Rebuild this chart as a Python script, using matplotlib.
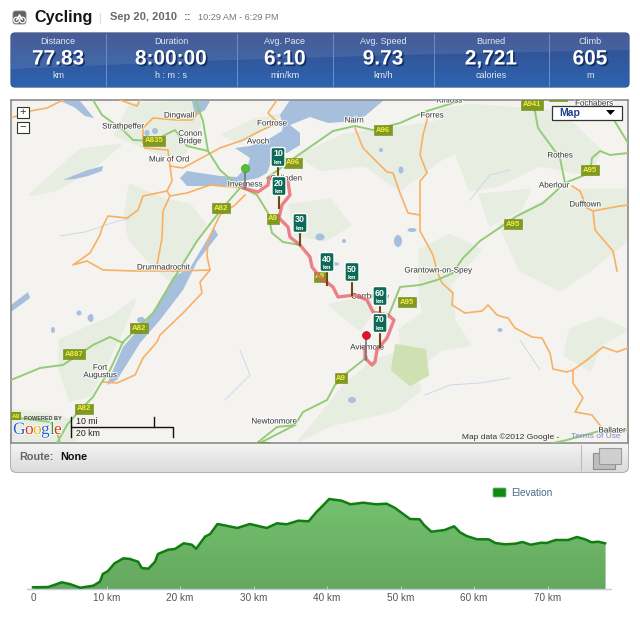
import numpy as np
import matplotlib
matplotlib.use('Agg')
import matplotlib.pyplot as plt
import matplotlib.patheffects as pe
from matplotlib.patches import FancyBboxPatch, Rectangle, Polygon, Ellipse

plt.rcParams['font.family'] = ['Liberation Sans', 'DejaVu Sans']

W, H = 640, 625

# summary band
stat_names = ['Distance', 'Duration', 'Avg. Pace', 'Avg. Speed', 'Burned', 'Climb']
stat_values = ['77.83', '8:00:00', '6:10', '9.73', '2,721', '605']
stat_units = ['km', 'h : m : s', 'min/km', 'km/h', 'calories', 'm']
stat_centers = [58, 171, 285, 383, 491, 590]
stat_dividers = [106, 237, 333, 434, 549]

# elevation profile, km along the ride and height
elev_km = [0, 2.1, 3.9, 5.0, 6.4, 8.2, 9.1, 9.5, 10.2, 11.1, 12.3, 13.2, 14.3, 14.8, 15.7, 16.6, 17,
           18.4, 19.3, 20.5, 21.6, 22.2, 23.4, 24.1, 25.1, 26.3, 27.8, 29.5, 31.8, 33.2, 34.5, 36.1,
           37.5, 38.6, 39.05, 40.3, 42, 43.2, 44.9, 46.7, 48.1, 49.2, 51.3, 52.6, 53.2, 54.2, 56,
           57.3, 58.1, 59, 60.4, 62, 62.9, 64.2, 65.6, 66.6, 67.7, 69.2, 69.9, 71.1, 72.8, 74, 75.1,
           76, 76.9, 77.83]
elev_h = [1.7, 2, 6.7, 5, 1.3, 3.3, 7.3, 15, 18, 25.7, 30.7, 30, 27.3, 21, 20.3, 27.3, 35,
          39.3, 40, 45.7, 44.3, 40.3, 52.3, 55, 65, 63.3, 61, 65, 61, 65.7, 64.7, 68.3,
          67.7, 77.3, 80.5, 90, 88.3, 84.7, 86.3, 84.7, 85.3, 81.3, 70, 69.7, 64, 57.3, 59,
          62.7, 56.7, 53, 49.7, 49.7, 46, 44.7, 45.3, 47, 44.3, 46.3, 46, 49, 49, 52, 49.7,
          46.7, 47.3, 45.7]
km_ticks = [0, 10, 20, 30, 40, 50, 60, 70]
km_labels = ['0', '10 km', '20 km', '30 km', '40 km', '50 km', '60 km', '70 km']

# map: route and markers
route = [(243, 188), (258, 192), (268, 185), (269, 178), (288, 182), (290, 195), (282, 205), (279, 218),
         (288, 227), (290, 237), (300, 245), (310, 257), (312, 267), (320, 277), (333, 287), (338, 297),
         (355, 295), (367, 300), (373, 312), (388, 315), (394, 320), (387, 338), (377, 350), (375, 362),
         (372, 365), (365, 358), (365, 347)]
sign_text = ['10', '20', '30', '40', '50', '60', '70']
sign_x = [278, 279, 300, 327, 352, 380, 380]
sign_y = [157, 186, 223, 262, 272, 296, 323]
sign_foot = [175, 208, 245, 285, 295, 313, 347]

# map: water
firth = [(290, 100), (384, 100), (365, 116), (343, 122), (328, 123), (310, 117), (290, 125), (300, 133),
         (300, 145), (287, 153), (272, 150), (270, 165), (267, 173), (258, 178), (243, 181), (225, 186),
         (197, 186), (187, 186), (180, 178), (187, 171), (220, 176), (237, 177), (248, 165), (250, 158),
         (235, 148), (250, 146), (267, 140), (282, 131), (283, 126), (280, 115)]
loch_ness = [(214, 228), (190, 268), (173, 277), (153, 313), (123, 347), (110, 377), (107, 385), (117, 380),
             (140, 343), (160, 320), (183, 290), (197, 262), (218, 235)]
loch_top = [(60, 101), (80, 101), (94, 118), (85, 116), (74, 107)]
loch_thin = [(63, 180), (75, 175), (88, 170), (103, 166), (102, 171), (88, 176), (75, 179)]
loch_dingwall = [(192, 101), (210, 101), (205, 110), (195, 116)]
loch_left = [(11, 305), (28, 292), (30, 298), (11, 312)]
lake_x = [155, 147, 153, 91, 53, 90, 141, 79, 320, 333, 352, 398, 412, 401, 344, 381, 500]
lake_y = [131, 133, 318, 318, 330, 318, 320, 313, 237, 264, 400, 241, 230, 170, 241, 150, 330]
lake_w = [6, 5, 5, 5, 4, 5, 8, 5, 9, 12, 8, 8, 9, 5, 4, 4, 5]
lake_h = [6, 6, 8, 8, 6, 6, 6, 5, 7, 4, 6, 12, 4, 7, 4, 4, 4]
stream_a = [(60, 236), (85, 232), (115, 222), (130, 218)]
stream_b = [(425, 395), (450, 385), (480, 383), (510, 378)]
stream_c = [(520, 340), (530, 355), (540, 370)]
stream_d = [(240, 350), (250, 375), (225, 400)]
stream_e = [(470, 200), (490, 175), (510, 170)]

# map: pale woodland
wood_a = [(130, 105), (195, 101), (200, 125), (180, 160), (150, 150), (115, 135)]
wood_b = [(130, 185), (165, 200), (190, 205), (205, 225), (170, 280), (150, 262), (130, 240), (125, 215)]
wood_c = [(60, 340), (110, 318), (135, 300), (120, 335), (90, 395), (70, 400), (60, 370)]
wood_d = [(222, 135), (255, 120), (280, 115), (262, 130), (240, 142)]
wood_e = [(300, 155), (345, 135), (420, 125), (445, 120), (470, 145), (440, 160), (400, 190), (365, 165), (320, 170)]
wood_f = [(440, 110), (470, 105), (560, 112), (600, 150), (590, 175), (540, 165), (500, 185), (470, 190)]
wood_g = [(480, 195), (530, 190), (520, 210), (490, 225)]
wood_h = [(500, 225), (565, 190), (627, 190), (627, 240), (590, 270), (560, 290), (520, 270)]
wood_i = [(420, 250), (450, 235), (480, 250), (450, 285), (455, 325), (430, 330), (420, 300)]
wood_j = [(290, 205), (330, 200), (350, 225), (325, 240), (295, 235)]
wood_k = [(330, 305), (352, 300), (380, 300), (360, 330)]
wood_l = [(400, 330), (440, 300), (470, 345), (440, 350), (405, 380)]
wood_m = [(300, 440), (345, 385), (375, 360), (410, 350), (420, 390), (395, 410), (330, 425)]
wood_n = [(570, 330), (600, 318), (627, 330), (600, 345), (590, 370), (565, 355)]
wood_o = [(11, 410), (50, 415), (70, 420), (75, 443), (11, 443)]
wood_p = [(30, 195), (80, 150), (120, 145), (90, 170), (55, 190)]
park = [(396, 345), (425, 350), (428, 375), (410, 385), (392, 370)]

# map: A roads
green_a = [(93, 100), (102, 115), (123, 130), (133, 140), (153, 141), (175, 130), (187, 146), (208, 151)]
green_b = [(195, 100), (203, 121), (208, 151), (220, 170), (237, 185), (243, 188), (257, 195), (268, 213),
           (272, 233), (283, 242), (300, 245)]
green_c = [(267, 178), (297, 156), (333, 131), (355, 126), (373, 130), (400, 123), (427, 111), (463, 100)]
green_d = [(533, 100), (538, 128), (560, 158), (565, 183)]
green_e = [(607, 100), (608, 110), (628, 143)]
green_f = [(628, 153), (610, 155), (600, 151), (592, 158), (590, 173), (565, 183), (543, 203), (517, 216),
           (480, 241), (463, 258), (453, 273), (437, 280), (420, 285), (400, 287), (388, 317)]
green_g = [(367, 357), (347, 373), (335, 385), (327, 400), (303, 412), (295, 425), (260, 443)]
green_h = [(295, 425), (277, 427), (257, 443)]
green_i = [(240, 188), (220, 211), (197, 241), (173, 280), (153, 313), (123, 342), (110, 370), (100, 385),
           (93, 397), (80, 410), (67, 425), (57, 443)]
green_j = [(123, 343), (110, 337), (93, 345), (63, 365), (40, 368), (11, 380)]
green_k = [(553, 443), (567, 440), (603, 430), (628, 430)]
green_l = [(11, 417), (50, 422), (57, 432), (60, 443)]

# map: B roads
orange_a = [(11, 118), (30, 111), (47, 108), (63, 100)]
orange_b = [(143, 143), (143, 128), (153, 118), (177, 120), (192, 120), (200, 111)]
orange_c = [(145, 148), (168, 150), (170, 166), (172, 181), (167, 191), (170, 196), (187, 193), (210, 185),
            (220, 186), (243, 188)]
orange_d = [(170, 166), (183, 168), (220, 148), (243, 140), (260, 131), (278, 123), (268, 113), (277, 100)]
orange_e = [(167, 191), (143, 196), (138, 210), (127, 218), (108, 216), (102, 228), (100, 235), (90, 253),
            (73, 265), (87, 261), (103, 270), (137, 271), (175, 271), (210, 270)]
orange_f = [(170, 196), (163, 211), (162, 238), (157, 265)]
orange_g = [(245, 195), (235, 205), (220, 215), (208, 240), (207, 256), (210, 270), (200, 282), (202, 293),
            (183, 313), (160, 335), (157, 342), (143, 358), (135, 375), (117, 383), (103, 382)]
orange_h = [(355, 128), (363, 148), (387, 172), (393, 173), (400, 193), (408, 213), (420, 215)]
orange_i = [(427, 111), (427, 120), (423, 135), (420, 155), (427, 173), (420, 181), (420, 211), (420, 231),
            (433, 255), (437, 271), (442, 283), (453, 293), (452, 305), (465, 313), (482, 311), (488, 305),
            (497, 315), (503, 317), (508, 318), (515, 328), (532, 337), (542, 338), (550, 353), (553, 369),
            (567, 372), (573, 370), (587, 360), (603, 347), (617, 352), (628, 348)]
orange_j = [(573, 370), (573, 383), (583, 398), (575, 412), (592, 415), (602, 428)]
orange_k = [(572, 186), (580, 191), (587, 208), (593, 211), (620, 206), (628, 205)]
orange_l = [(593, 211), (595, 230), (613, 251), (617, 271)]
orange_m = [(120, 100), (137, 106), (140, 100)]

# map: labels and road shields
town_names = ['Strathpeffer', 'Dingwall', 'Conon\nBridge', 'Muir of Ord', 'Drumnadrochit', 'Fort\nAugustus',
              'Fortrose', 'Avoch', 'Inverness', 'Nairn', 'Forres', 'Kinloss', 'Rothes', 'Aberlour', 'Dufftown',
              'Fochabers', 'Grantown-on-Spey', 'Newtonmore', 'Aviemore', 'Carrbridge', 'Culloden', 'Ballater']
town_x = [123, 179, 190, 169, 163, 100, 272, 258, 245, 354, 432, 449, 560, 554, 585, 594, 438, 274, 367, 370, 286, 612]
town_y = [127, 116, 138, 160, 268, 372, 124, 142, 185, 121, 116, 101, 156, 186, 205, 104, 271, 422, 348, 297, 179, 431]
shield_names = ['A96', 'A82', 'A9', 'A9', 'A95', 'A9', 'A96', 'A835', 'A82', 'A887', 'A82', 'A941', 'A95',
                'A95', 'A9', 'A98']
shield_x = [293, 221, 273, 320, 407, 341, 383, 154, 139, 74, 84, 532, 590, 513, 263, 558]
shield_y = [163, 208, 219, 277, 302, 378, 130, 141, 328, 354, 409, 105, 170, 224, 447, 96]

fig = plt.figure(figsize=(W / 100, H / 100), dpi=100, facecolor='white')


def px_axes(left, top, right, bottom, **kw):
    return fig.add_axes([left / W, 1 - bottom / H, (right - left) / W, (bottom - top) / H], **kw)


page = px_axes(0, 0, W, H)
page.set_xlim(0, W)
page.set_ylim(H, 0)
page.axis('off')

# --- header
page.add_patch(FancyBboxPatch((13, 11), 13, 13, boxstyle='round,pad=0,rounding_size=2.5', fc='#5f6264', ec='#8a8a8a', lw=0.6))
for cx in (16.5, 22.5):
    page.add_patch(Ellipse((cx, 20), 5.5, 5.5, fc='none', ec='white', lw=0.9))
page.plot([16.5, 19.5, 22.5, 20, 16.5], [20, 14.5, 20, 16, 20], color='white', lw=0.7)
page.text(34, 17.5, 'Cycling', fontsize=11.6, fontweight='bold', color='#151515', va='center')
page.plot([100, 100], [13, 23], color='#dddddd', lw=0.8)
page.text(110, 17.5, 'Sep 20, 2010', fontsize=8, fontweight='bold', color='#6a6a6a', va='center')
page.text(184, 17.5, '::', fontsize=8, fontweight='bold', color='#6a6a6a', va='center')
page.text(198, 18, '10:29 AM - 6:29 PM', fontsize=6.6, color='#777777', va='center')

# --- summary band
band = FancyBboxPatch((11, 33), 618, 54, boxstyle='round,pad=0,rounding_size=4', fc='#2c5ea9', ec='#23406f', lw=0.8)
page.add_patch(band)
shade = np.linspace(0, 1, 54)[:, None]
band_rgb = np.array([0x35, 0x4c, 0x8c]) * (1 - shade) + np.array([0x2d, 0x64, 0xb0]) * shade
im = page.imshow(band_rgb[:, None, :] / 255, extent=(11, 629, 87, 33), aspect='auto', zorder=2)
im.set_clip_path(band)
swoosh = Polygon([(11, 33), (629, 33), (629, 50), (400, 55), (200, 61), (11, 69)], closed=True, fc='white', alpha=0.09,
                 ec='none', zorder=2.5)
page.add_patch(swoosh)
swoosh.set_clip_path(band)
page.set_xlim(0, W)
page.set_ylim(H, 0)
for dx in stat_dividers:
    page.plot([dx, dx], [34, 86], color='#6e8fc6', lw=0.7, zorder=3)
value_fx = [pe.withSimplePatchShadow(offset=(1.2, -1.2), shadow_rgbFace='#0c2350', alpha=0.8)]
for name, value, unit, cx in zip(stat_names, stat_values, stat_units, stat_centers):
    page.text(cx, 41.5, name, fontsize=6.5, color='#e4e9f4', ha='center', va='center', zorder=4)
    page.text(cx, 59, value, fontsize=15, fontweight='bold', color='white', ha='center', va='center', zorder=4,
              path_effects=value_fx)
    page.text(cx, 75.5, unit, fontsize=6.5, color='#e4e9f4', ha='center', va='center', zorder=4)

# --- footer under the map
foot = FancyBboxPatch((11, 430), 617, 42, boxstyle='round,pad=0,rounding_size=5', fc='#eeeeee', ec='#8e8e8e', lw=1.0)
page.add_patch(foot)
foot_shade = np.linspace(1, 0.86, 42)[:, None, None] * np.ones((42, 1, 3))
fim = page.imshow(foot_shade, extent=(11, 628, 472, 430), aspect='auto', zorder=1.5)
fim.set_clip_path(foot)
page.set_xlim(0, W)
page.set_ylim(H, 0)
page.text(19, 457.5, 'Route:', fontsize=7.8, fontweight='bold', color='#666666', va='center', zorder=4)
page.text(60, 457.5, 'None', fontsize=7.8, fontweight='bold', color='#111111', va='center', zorder=4)
page.plot([581, 581], [445, 470], color='#bbbbbb', lw=0.8, zorder=4)
page.add_patch(Rectangle((593, 453), 22, 16, fc='#bdbdbd', ec='#8d8d8d', lw=0.8, zorder=4))
page.add_patch(Rectangle((599, 448), 22, 16, fc='#cfcfcf', ec='#9a9a9a', lw=0.8, zorder=4.1))

# --- map
m = px_axes(11, 100, 628, 443)
m.set_xlim(11, 628)
m.set_ylim(443, 100)
m.set_facecolor('#f4f3f0')
m.set_xticks([])
m.set_yticks([])
for s in m.spines.values():
    s.set_color('#8c8c8c')
    s.set_linewidth(1.2)

for wood in (wood_a, wood_b, wood_c, wood_d, wood_e, wood_f, wood_g, wood_h, wood_i, wood_j, wood_k, wood_l, wood_m,
             wood_n, wood_o, wood_p):
    m.add_patch(Polygon(wood, closed=True, fc='#e8ede1', ec='#e8ede1', lw=2, joinstyle='round', zorder=1))
m.add_patch(Polygon(park, closed=True, fc='#cfe0b2', ec='#cfe0b2', lw=1.5, joinstyle='round', zorder=1.2))
for stream in (stream_a, stream_b, stream_c, stream_d, stream_e):
    xs, ys = zip(*stream)
    m.plot(xs, ys, color='#c4d6ea', lw=0.6, zorder=1.5)
for water in (firth, loch_ness, loch_top, loch_thin, loch_dingwall, loch_left):
    m.add_patch(Polygon(water, closed=True, fc='#a6bfdd', ec='none', zorder=2))
for lx, ly, lw_, lh in zip(lake_x, lake_y, lake_w, lake_h):
    m.add_patch(Ellipse((lx, ly), lw_, lh, fc='#a6bfdd', ec='none', zorder=2))

for road in (orange_a, orange_b, orange_c, orange_d, orange_e, orange_f, orange_g, orange_h, orange_i, orange_j,
             orange_k, orange_l, orange_m):
    xs, ys = zip(*road)
    m.plot(xs, ys, color='#f8b063', lw=1.2, zorder=3, solid_joinstyle='round')
for road in (green_a, green_b, green_c, green_d, green_e, green_f, green_g, green_h, green_i, green_j, green_k, green_l):
    xs, ys = zip(*road)
    m.plot(xs, ys, color='#93cc76', lw=1.4, zorder=3.2, solid_joinstyle='round')

halo = [pe.withStroke(linewidth=1.5, foreground='white', alpha=0.8)]
for name, tx, ty in zip(town_names, town_x, town_y):
    m.text(tx, ty, name, fontsize=5.8, color='#3c3c3c', ha='center', va='center', zorder=4, path_effects=halo, clip_on=True,
           linespacing=1.1)
for name, sx, sy in zip(shield_names, shield_x, shield_y):
    m.text(sx, sy, name, fontsize=5.6, fontweight='bold', color='#f4e94c', ha='center', va='center', zorder=4.5, clip_on=True,
           bbox=dict(boxstyle='square,pad=0.2', fc='#7f9a1f', ec='#6f8a1a', lw=0.4))

rx, ry = zip(*route)
m.plot(rx, ry, color='#ea5a66', alpha=0.75, lw=2.4, zorder=5, solid_joinstyle='round', solid_capstyle='round')

for label, sx, sy, foot_y in zip(sign_text, sign_x, sign_y, sign_foot):
    m.plot([sx, sx], [sy, foot_y], color='#6b4a16', lw=1.5, zorder=6)
    m.add_patch(FancyBboxPatch((sx - 6.5, sy - 9), 13, 18, boxstyle='round,pad=0.5,rounding_size=2', fc='#0c6a56', ec='white',
                               lw=1.0, zorder=7))
    m.text(sx, sy - 3, label, fontsize=6.4, fontweight='bold', color='white', ha='center', va='center', zorder=8)
    m.text(sx, sy + 5.2, 'km', fontsize=4.2, fontweight='bold', color='white', ha='center', va='center', zorder=8)

m.plot([245, 245], [170, 188], color='#777777', lw=1.2, zorder=6)
m.scatter([245], [168], s=32, c='#55c230', edgecolors='#3b9a1d', linewidths=0.5, zorder=7)
m.plot([366, 366], [337, 360], color='#777777', lw=1.2, zorder=6)
m.scatter([366], [335], s=32, c='#e3102a', edgecolors='#b00d20', linewidths=0.5, zorder=7)

# zoom buttons, map type box
for by, sign in zip((112, 127), ('+', '\u2212')):
    m.add_patch(Rectangle((17, by - 5.5), 12, 11, fc='white', ec='#333333', lw=0.8, zorder=9))
    m.text(23, by - 0.5, sign, fontsize=8, color='#333333', ha='center', va='center', zorder=10)
m.add_patch(Rectangle((552, 106), 70, 14, fc='white', ec='#333333', lw=0.9, zorder=9))
m.text(559, 113, 'Map', fontsize=7.5, fontweight='bold', color='#1d3f8f', va='center', zorder=10)
m.add_patch(Polygon([(606, 110), (615, 110), (610.5, 115)], closed=True, fc='black', ec='none', zorder=10))

# scale bar and credits
m.plot([154, 154, 71, 71], [417, 427, 427, 417], color='#111111', lw=1.0, zorder=9)
m.plot([71, 71], [427, 437], color='#111111', lw=1.0, zorder=9)
m.plot([154, 173, 173], [427, 427, 437], color='#111111', lw=1.0, zorder=9)
m.text(76, 421, '10 mi', fontsize=6.3, color='#222222', va='center', zorder=9)
m.text(76, 433.5, '20 km', fontsize=6.3, color='#222222', va='center', zorder=9)
m.text(16, 416, 'A9', fontsize=4.6, fontweight='bold', color='#f4e94c', ha='center', va='center', zorder=8,
       bbox=dict(boxstyle='square,pad=0.2', fc='#7f9a1f', ec='none'))
m.text(24, 418, 'POWERED BY', fontsize=4, fontweight='bold', color='#444444', va='center', zorder=9)
for letter, lx, colour in zip('Google', (13, 25, 33, 41, 50, 54),
                              ('#2f5fd0', '#d8342a', '#e8b21c', '#2f5fd0', '#3a9a33', '#d8342a')):
    m.text(lx, 430, letter, fontsize=12.5, family=['Liberation Serif'], color=colour, va='center', zorder=9,
           path_effects=[pe.withStroke(linewidth=1.2, foreground='white')])
m.text(462, 437, 'Map data \u00a92012 Google -', fontsize=6, color='#333333', va='center', zorder=9)
m.text(571, 437, 'Terms of Use', fontsize=6, color='#7f86c8', va='center', zorder=9)

# --- elevation
ax = px_axes(27, 489, 611, 589)
ax.patch.set_alpha(0)
fill = ax.fill_between(elev_km, elev_h, 0, color='#6cb567', lw=0)
grad = np.linspace(0, 1, 100)[:, None, None] * (np.array([0x64, 0xa8, 0x5e]) - np.array([0x75, 0xc0, 0x70])) + np.array([0x75, 0xc0, 0x70])
gim = ax.imshow(grad / 255, extent=(0, 77.83, 0, 90), origin='upper', aspect='auto', zorder=1.5)
ax.set_xlim((27 - 33) / 7.35, (611 - 33) / 7.35)
ax.set_ylim(0, 100)
gim.set_clip_path(fill.get_paths()[0], transform=ax.transData)
ax.plot(elev_km, elev_h, color='#0f7d10', lw=1.8, zorder=3, solid_joinstyle='round')
for side in ('top', 'left', 'right'):
    ax.spines[side].set_visible(False)
ax.spines['bottom'].set_color('#c4cbd8')
ax.spines['bottom'].set_linewidth(1.0)
ax.set_yticks([])
ax.set_xticks(km_ticks)
ax.set_xticklabels(km_labels, fontsize=7.2, color='#555555')
ax.tick_params(axis='x', length=2, width=0.7, color='#c4cbd8', direction='in', pad=3)

page.add_patch(FancyBboxPatch((493, 488), 13, 9, boxstyle='round,pad=0,rounding_size=1', fc='#118a13', ec='#7fb97f', lw=0.6))
page.text(511, 493, 'Elevation', fontsize=7.2, color='#4a6a86', va='center')

fig.savefig('out.png', dpi=100)
